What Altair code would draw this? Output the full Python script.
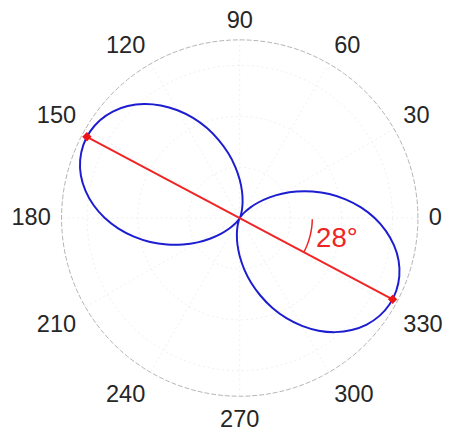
import altair as alt
import pandas as pd

# ---------------- data ----------------
R_MAX = 0.7
ring_radii = [0.2, 0.4, 0.6]
spoke_angles = [0, 30, 60, 90, 120, 150]
tick_angles = [0, 30, 60, 90, 120, 150, 180, 210, 240, 270, 300, 330]
tick_labels = ["0", "30", "60", "90", "120", "150", "180", "210", "240", "270", "300", "330"]

curve_angles = list(range(0, 360, 5))
curve_r = [
    0.530, 0.478, 0.422, 0.364, 0.304, 0.246, 0.191, 0.140, 0.095, 0.058, 0.029, 0.010,
    0.001, 0.002, 0.013, 0.034, 0.065, 0.104, 0.150, 0.202, 0.258, 0.316, 0.376, 0.434,
    0.489, 0.540, 0.585, 0.622, 0.651, 0.670, 0.679, 0.678, 0.667, 0.646, 0.615, 0.576,
    0.530, 0.478, 0.422, 0.364, 0.304, 0.246, 0.191, 0.140, 0.095, 0.058, 0.029, 0.010,
    0.001, 0.002, 0.013, 0.034, 0.065, 0.104, 0.150, 0.202, 0.258, 0.316, 0.376, 0.434,
    0.489, 0.540, 0.585, 0.622, 0.651, 0.670, 0.679, 0.678, 0.667, 0.646, 0.615, 0.576,
]
axis_angles = [152, 332]
axis_r = [0.68, 0.68]
annot_arc_angles = [-28, -25, -22, -19, -16, -13, -10, -7, -4, -1]
annot_arc_r = 0.285
annot_text = "28°"

# ---------------- tables ----------------
circle_steps = list(range(0, 361, 3))
rings_df = pd.DataFrame([(r, a) for r in ring_radii for a in circle_steps], columns=["r", "deg"])
outer_df = pd.DataFrame({"r": [R_MAX] * len(circle_steps), "deg": circle_steps})
spokes_df = pd.DataFrame({"deg": spoke_angles})
ticks_df = pd.DataFrame({"deg": tick_angles, "label": tick_labels})
curve_df = pd.DataFrame({"deg": curve_angles, "r": curve_r, "i": list(range(len(curve_r)))})
axis_df = pd.DataFrame({"deg": axis_angles, "r": axis_r, "i": [0, 1]})
arc_df = pd.DataFrame({"deg": annot_arc_angles, "r": [annot_arc_r] * len(annot_arc_angles)})
annot_df = pd.DataFrame({"t": [annot_text]})

K = 181.5 / R_MAX  # px per unit
W, H = 443, 425
CX, CY = 244 - 8, 218 - 8
xs = alt.Scale(domain=[-CX / K, (W - CX) / K], nice=False, zero=False)
ys = alt.Scale(domain=[(CY - H) / K, CY / K], nice=False, zero=False)

def X(f="x"):
    return alt.X(f"{f}:Q", scale=xs, axis=None)

def Y(f="y"):
    return alt.Y(f"{f}:Q", scale=ys, axis=None)

def polar(ch, rr="datum.r"):
    return ch.transform_calculate(
        x=f"{rr} * cos(datum.deg * PI / 180)",
        y=f"{rr} * sin(datum.deg * PI / 180)",
    )

rings = polar(alt.Chart(rings_df).mark_line(color="#efefef", strokeWidth=1, strokeDash=[2, 3])).encode(
    x=X(), y=Y(), detail="r:N", order="deg:Q"
)

spokes = alt.Chart(spokes_df).mark_rule(color="#efefef", strokeWidth=1, strokeDash=[2, 3]).transform_calculate(
    x=f"{R_MAX} * cos(datum.deg * PI / 180)",
    y=f"{R_MAX} * sin(datum.deg * PI / 180)",
    x2=f"-{R_MAX} * cos(datum.deg * PI / 180)",
    y2=f"-{R_MAX} * sin(datum.deg * PI / 180)",
).encode(x=X(), y=Y(), x2="x2:Q", y2="y2:Q")

outer = polar(alt.Chart(outer_df).mark_line(color="#b4b4b4", strokeWidth=1, strokeDash=[5, 2])).encode(
    x=X(), y=Y(), order="deg:Q"
)

labels = alt.Chart(ticks_df).mark_text(
    font="Liberation Sans",
    fontSize=24,
    color="#262626",
    align=alt.ExprRef(expr="datum.c > 0.1 ? 'left' : (datum.c < -0.1 ? 'right' : 'center')"),
    baseline=alt.ExprRef(expr="datum.s > 0.1 ? 'alphabetic' : (datum.s < -0.1 ? 'top' : 'middle')"),
).transform_calculate(
    c="cos(datum.deg * PI / 180)",
    s="sin(datum.deg * PI / 180)",
    x="0.742 * cos(datum.deg * PI / 180)",
    y="0.748 * sin(datum.deg * PI / 180)",
).encode(x=X(), y=Y(), text="label:N")

curve = polar(alt.Chart(curve_df).mark_line(color="#1c1cd0", strokeWidth=2, interpolate="cardinal-closed")).encode(
    x=X(), y=Y(), order="i:Q"
)

red_line = polar(alt.Chart(axis_df).mark_line(color="#f02424", strokeWidth=2)).encode(
    x=X(), y=Y(), order="i:Q"
)
red_pts = polar(alt.Chart(axis_df).mark_point(shape="diamond", filled=True, size=90, color="#ee1414", opacity=1)).encode(
    x=X(), y=Y()
)
red_arc = polar(alt.Chart(arc_df).mark_line(color="#f02424", strokeWidth=1.5, interpolate="monotone")).encode(
    x=X(), y=Y(), order="deg:Q"
)
red_text = alt.Chart(annot_df).mark_text(
    font="Liberation Sans", fontSize=28, color="#f02424", align="left", baseline="alphabetic"
).encode(x=alt.datum(0.30, scale=xs, type="quantitative"), y=alt.datum(-0.112, scale=ys, type="quantitative"), text="t:N")

chart = alt.layer(rings, spokes, outer, labels, curve, red_line, red_pts, red_arc, red_text).properties(
    width=W, height=H, padding=0, autosize=alt.AutoSizeParams(type="none")
).configure_view(strokeWidth=0)

chart.save("out.html", embed_options={"renderer": "svg", "actions": False})
